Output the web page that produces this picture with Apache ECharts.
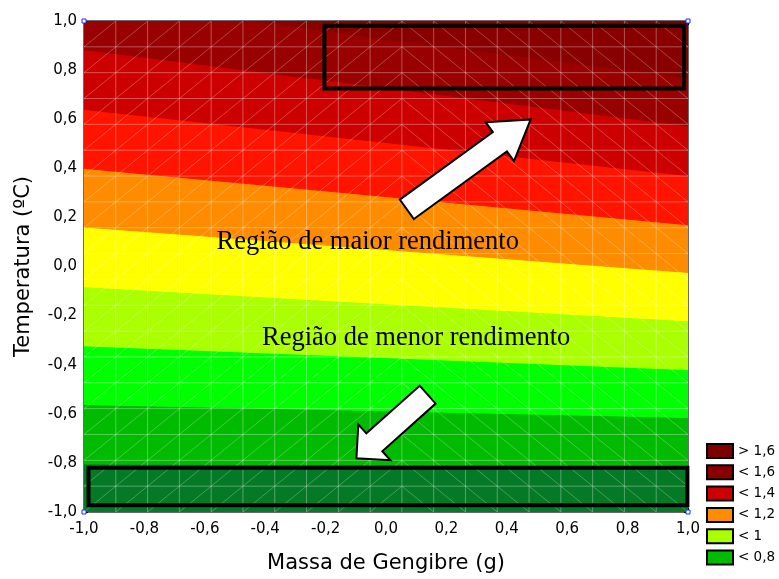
<!DOCTYPE html>
<html><head><meta charset="utf-8">
<script src="https://cdn.jsdelivr.net/npm/echarts@6/dist/echarts.min.js"></script>
<style>html,body{margin:0;padding:0;background:#fff}#c{width:779px;height:579px}</style>
</head><body><div id="c"></div>
<script>
// ---------- data ----------
const xTicks = [-1, -0.8, -0.6, -0.4, -0.2, 0, 0.2, 0.4, 0.6, 0.8, 1];
const yTicks = [-1, -0.8, -0.6, -0.4, -0.2, 0, 0.2, 0.4, 0.6, 0.8, 1];
// x positions (Massa) at which the contour boundaries were read
const contourX = [-1, 0, 1];
// contour levels (response) separating the coloured bands
const contourLevels = [0.7, 0.8, 0.9, 1.0, 1.1, 1.2, 1.3, 1.4, 1.5, 1.6];
// Temperatura of each contour boundary at Massa = -1, 0, 1
const boundaryAtLeft   = [-0.804, -0.562, -0.323, -0.082, 0.161, 0.400, 0.640, 0.883, 1.100, 1.245];
const boundaryAtCenter = [-0.808, -0.588, -0.371, -0.152, 0.069, 0.285, 0.505, 0.728, 0.925, 1.107];
const boundaryAtRight  = [-0.811, -0.615, -0.420, -0.221, -0.024, 0.170, 0.370, 0.573, 0.769, 0.969];
// band colours from lowest (< 0,7) to highest (> 1,6)
const bandColors = ['#047a26', '#00bb00', '#00ff00', '#aaff00', '#ffff00', '#ff8c00',
                    '#ff1400', '#cc0000', '#990000', '#880000', '#7d0000'];
const legendLabels = ['> 1,6', '< 1,6', '< 1,4', '< 1,2', '< 1', '< 0,8'];
const legendBands = [10, 9, 7, 5, 3, 1];
const designPoints = [[-1, 1], [1, 1], [-1, -1], [1, -1]];
// annotations
const regionBoxes = [[-0.204, 0.725, 0.987, 0.981], [-0.985, -0.972, 0.998, -0.820]];
const regionArrows = [[0.069, 0.233, 0.479, 0.599], [0.138, -0.522, -0.098, -0.781]];
const regionTexts = ['Região de maior rendimento', 'Região de menor rendimento'];
const regionTextPos = [[-0.0605, 0.100], [0.100, -0.2895]];

// ---------- rendering ----------
const meshDivisions = 19;
const arrowShapes = [{shaft: 12, head: 24, headLen: 38}, {shaft: 12, head: 24, headLen: 24}];
const fmt = v => (Math.abs(v) < 1e-9 ? 0 : v).toFixed(1).replace('.', ',');
const sansFont = 'DejaVu Sans';

function boundaryRow(k) {
  return [boundaryAtLeft[k], boundaryAtCenter[k], boundaryAtRight[k]];
}

function renderBand(params, api) {
  const k = params.dataIndex;
  const last = bandColors.length - 1;
  const lower = k === 0 ? contourX.map(() => -3) : boundaryRow(k - 1);
  const upper = k === last ? contourX.map(() => 3) : boundaryRow(k);
  const pts = contourX.map((x, i) => api.coord([x, lower[i]]))
    .concat(contourX.map((x, i) => api.coord([x, upper[i]])).reverse());
  return {
    type: 'polygon',
    shape: {points: pts},
    style: {fill: bandColors[k], stroke: bandColors[k], lineWidth: 1}
  };
}

function renderMesh(params, api) {
  const step = 2 / meshDivisions;
  const nodes = [];
  for (let i = 0; i <= meshDivisions; i++) nodes.push(-1 + i * step);
  const children = [];
  const st = {stroke: 'rgba(255,255,255,0.32)', lineWidth: 1};
  for (let i = 1; i < meshDivisions; i++) {
    const a = api.coord([nodes[i], -1]), b = api.coord([nodes[i], 1]);
    children.push({type: 'line', shape: {x1: a[0], y1: a[1], x2: b[0], y2: b[1]}, style: st});
    const c = api.coord([-1, nodes[i]]), d = api.coord([1, nodes[i]]);
    children.push({type: 'line', shape: {x1: c[0], y1: c[1], x2: d[0], y2: d[1]}, style: st});
  }
  const half = Math.floor(meshDivisions / 2);
  for (let i = 0; i < meshDivisions; i++) {
    for (let j = 0; j < meshDivisions; j++) {
      let a, b;
      if (i <= half) { a = api.coord([nodes[i], nodes[j]]); b = api.coord([nodes[i + 1], nodes[j + 1]]); }
      else { a = api.coord([nodes[i], nodes[j + 1]]); b = api.coord([nodes[i + 1], nodes[j]]); }
      children.push({type: 'line', shape: {x1: a[0], y1: a[1], x2: b[0], y2: b[1]},
        style: {stroke: 'rgba(255,255,255,0.26)', lineWidth: 1}});
    }
  }
  return {type: 'group', children};
}

function renderBox(params, api) {
  const p1 = api.coord([api.value(0), api.value(1)]);
  const p2 = api.coord([api.value(2), api.value(3)]);
  return {
    type: 'rect',
    shape: {x: Math.min(p1[0], p2[0]), y: Math.min(p1[1], p2[1]),
            width: Math.abs(p2[0] - p1[0]), height: Math.abs(p2[1] - p1[1])},
    style: {fill: 'none', stroke: '#000', lineWidth: 4}
  };
}

function renderArrow(params, api) {
  const s = arrowShapes[params.dataIndex];
  const t = api.coord([api.value(0), api.value(1)]);
  const p = api.coord([api.value(2), api.value(3)]);
  const dx = p[0] - t[0], dy = p[1] - t[1];
  const len = Math.hypot(dx, dy);
  const ux = dx / len, uy = dy / len, nx = -uy, ny = ux;
  const bx = p[0] - ux * s.headLen, by = p[1] - uy * s.headLen;
  const pts = [
    [t[0] + nx * s.shaft, t[1] + ny * s.shaft],
    [bx + nx * s.shaft, by + ny * s.shaft],
    [bx + nx * s.head, by + ny * s.head],
    [p[0], p[1]],
    [bx - nx * s.head, by - ny * s.head],
    [bx - nx * s.shaft, by - ny * s.shaft],
    [t[0] - nx * s.shaft, t[1] - ny * s.shaft]
  ];
  return {type: 'polygon', shape: {points: pts},
          style: {fill: '#fff', stroke: '#000', lineWidth: 2, lineJoin: 'miter'}};
}

function renderText(params, api) {
  const p = api.coord([api.value(0), api.value(1)]);
  return {
    type: 'text', x: p[0], y: p[1],
    style: {text: regionTexts[params.dataIndex], fill: '#000',
            font: '26.5px "Liberation Serif"', fontSize: 26.5, fontFamily: 'Liberation Serif',
            align: 'center', verticalAlign: 'middle', textAlign: 'center', textVerticalAlign: 'middle'}
  };
}

const chart = echarts.init(document.getElementById('c'), null, {renderer: 'canvas'});
const axisLineStyle = {color: '#3a3a3a', width: 1.5};

const series = [
  {type: 'custom', name: 'bands', renderItem: renderBand, clip: true, silent: true, z: 1,
   data: bandColors.map(() => [0, 0])},
  {type: 'custom', name: 'mesh', renderItem: renderMesh, clip: true, silent: true, z: 2,
   data: [[0, 0]]},
  {type: 'custom', name: 'boxes', renderItem: renderBox, silent: true, z: 5,
   data: regionBoxes},
  {type: 'custom', name: 'arrows', renderItem: renderArrow, silent: true, z: 6,
   data: regionArrows},
  {type: 'custom', name: 'texts', renderItem: renderText, silent: true, z: 7,
   data: regionTextPos},
  {type: 'scatter', name: 'design', data: designPoints, symbol: 'rect', symbolSize: 4,
   itemStyle: {color: '#fff', borderColor: '#1030ff', borderWidth: 1, opacity: 1}, silent: true, z: 8, clip: false}
];
legendLabels.forEach((name, i) => {
  series.push({type: 'scatter', name, data: [],
               itemStyle: {color: bandColors[legendBands[i]], opacity: 1}});
});

chart.setOption({
  animation: false,
  backgroundColor: '#fff',
  grid: {left: 84, top: 21, width: 604, height: 494, containLabel: false},
  legend: {
    orient: 'vertical', left: 706, top: 443, padding: 0,
    itemWidth: 26, itemHeight: 14, itemGap: 5.3,
    icon: 'rect', selectedMode: false, data: legendLabels,
    itemStyle: {borderColor: '#000', borderWidth: 2, opacity: 1},
    textStyle: {fontFamily: sansFont, fontSize: 13.5, color: '#000'}
  },
  xAxis: [
    {type: 'value', min: -1, max: 1, interval: 0.2, position: 'bottom',
     axisLine: {show: true, onZero: false, lineStyle: axisLineStyle},
     axisTick: {show: true, inside: true, length: 4, lineStyle: {color: '#000'}, customValues: xTicks},
     axisLabel: {formatter: fmt, fontFamily: sansFont, fontSize: 15, color: '#000', margin: 10, customValues: xTicks},
     splitLine: {show: false},
     name: 'Massa de Gengibre (g)', nameLocation: 'middle', nameGap: 41,
     nameTextStyle: {fontFamily: sansFont, fontSize: 21, color: '#000'}},
    {type: 'value', min: -1, max: 1, interval: 1 / 6, position: 'top',
     axisLine: {show: true, onZero: false, lineStyle: axisLineStyle},
     axisTick: {show: true, inside: true, length: 4, lineStyle: {color: '#000'}},
     axisLabel: {show: false}, splitLine: {show: false}}
  ],
  yAxis: [
    {type: 'value', min: -1, max: 1, interval: 0.2, position: 'left',
     axisLine: {show: true, onZero: false, lineStyle: axisLineStyle},
     axisTick: {show: true, inside: true, length: 4, lineStyle: {color: '#000'}, customValues: yTicks},
     axisLabel: {formatter: fmt, fontFamily: sansFont, fontSize: 15, color: '#000', margin: 7, customValues: yTicks},
     splitLine: {show: false},
     name: 'Temperatura (ºC)', nameLocation: 'middle', nameGap: 50,
     nameTextStyle: {fontFamily: sansFont, fontSize: 21, color: '#000'}},
    {type: 'value', min: -1, max: 1, interval: 1 / 6, position: 'right',
     axisLine: {show: true, onZero: false, lineStyle: axisLineStyle},
     axisTick: {show: true, inside: true, length: 4, lineStyle: {color: '#000'}},
     axisLabel: {show: false}, splitLine: {show: false}}
  ],
  series
});
</script></body></html>
